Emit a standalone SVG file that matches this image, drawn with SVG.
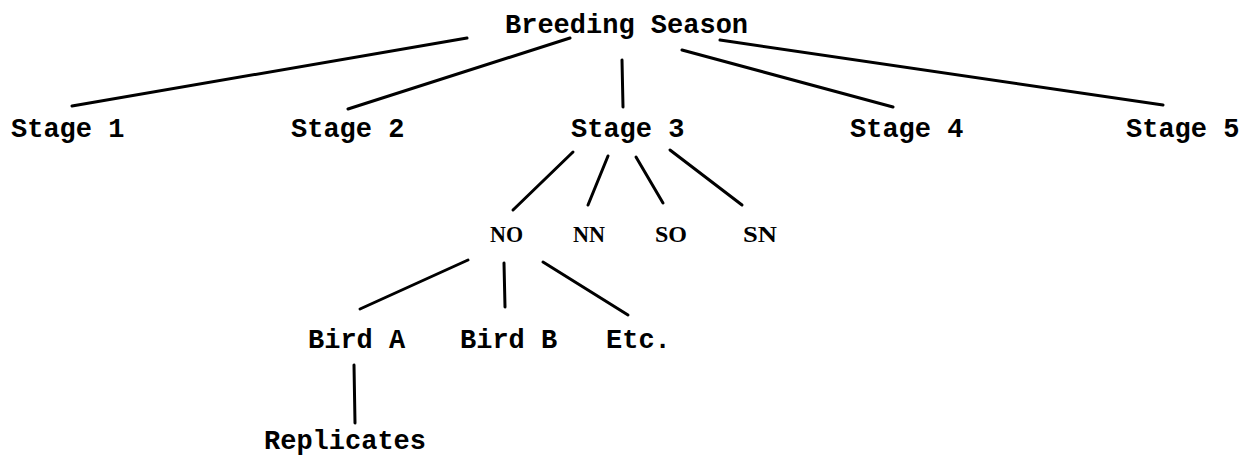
<svg xmlns="http://www.w3.org/2000/svg" width="1247" height="464" viewBox="0 0 1247 464">
  <style>
    .lbl { font-family: "Liberation Mono", "DejaVu Sans Mono", monospace; font-size: 27px; font-weight: bold; fill: #000; }
    .grp { font-family: "Liberation Serif", "DejaVu Serif", serif; font-size: 24px; font-weight: bold; fill: #000; }
    .edge { stroke: #000; stroke-width: 3; stroke-linecap: round; fill: none; }
  </style>
  <rect width="1247" height="464" fill="#fff"/>

  <g id="connectors">
    <!-- season to stages -->
    <line class="edge" x1="467" y1="38" x2="72" y2="106"/>
    <line class="edge" x1="570" y1="38" x2="348" y2="109"/>
    <line class="edge" x1="622" y1="60" x2="623" y2="107"/>
    <line class="edge" x1="682" y1="50" x2="893" y2="107"/>
    <line class="edge" x1="720" y1="40" x2="1163" y2="105"/>
    <!-- stage 3 to groups -->
    <line class="edge" x1="573" y1="152" x2="513" y2="210"/>
    <line class="edge" x1="608" y1="156" x2="588" y2="205"/>
    <line class="edge" x1="636" y1="157" x2="663" y2="203"/>
    <line class="edge" x1="670" y1="150" x2="742" y2="205"/>
    <!-- NO to birds -->
    <line class="edge" x1="468" y1="260" x2="360" y2="309"/>
    <line class="edge" x1="504" y1="263" x2="505" y2="307"/>
    <line class="edge" x1="543" y1="262" x2="628" y2="315"/>
    <!-- bird A to replicates -->
    <line class="edge" x1="354" y1="365" x2="355" y2="423"/>
  </g>

  <g id="season"><text class="lbl" x="505" y="33">Breeding Season</text></g>

  <g id="stage1"><text class="lbl" x="11" y="137">Stage 1</text></g>
  <g id="stage2"><text class="lbl" x="291" y="137">Stage 2</text></g>
  <g id="stage3"><text class="lbl" x="571" y="137">Stage 3</text></g>
  <g id="stage4"><text class="lbl" x="850" y="137">Stage 4</text></g>
  <g id="stage5"><text class="lbl" x="1126" y="137">Stage 5</text></g>

  <g id="no"><text class="grp" x="490" y="242" textLength="33" lengthAdjust="spacingAndGlyphs">NO</text></g>
  <g id="nn"><text class="grp" x="573" y="242" textLength="32" lengthAdjust="spacingAndGlyphs">NN</text></g>
  <g id="so"><text class="grp" x="655" y="242" textLength="32" lengthAdjust="spacingAndGlyphs">SO</text></g>
  <g id="sn"><text class="grp" x="743" y="242" textLength="34" lengthAdjust="spacingAndGlyphs">SN</text></g>

  <g id="birdA"><text class="lbl" x="308" y="348">Bird A</text></g>
  <g id="birdB"><text class="lbl" x="460" y="348">Bird B</text></g>
  <g id="etc"><text class="lbl" x="606" y="348">Etc.</text></g>

  <g id="replicates"><text class="lbl" x="264" y="449">Replicates</text></g>
</svg>
